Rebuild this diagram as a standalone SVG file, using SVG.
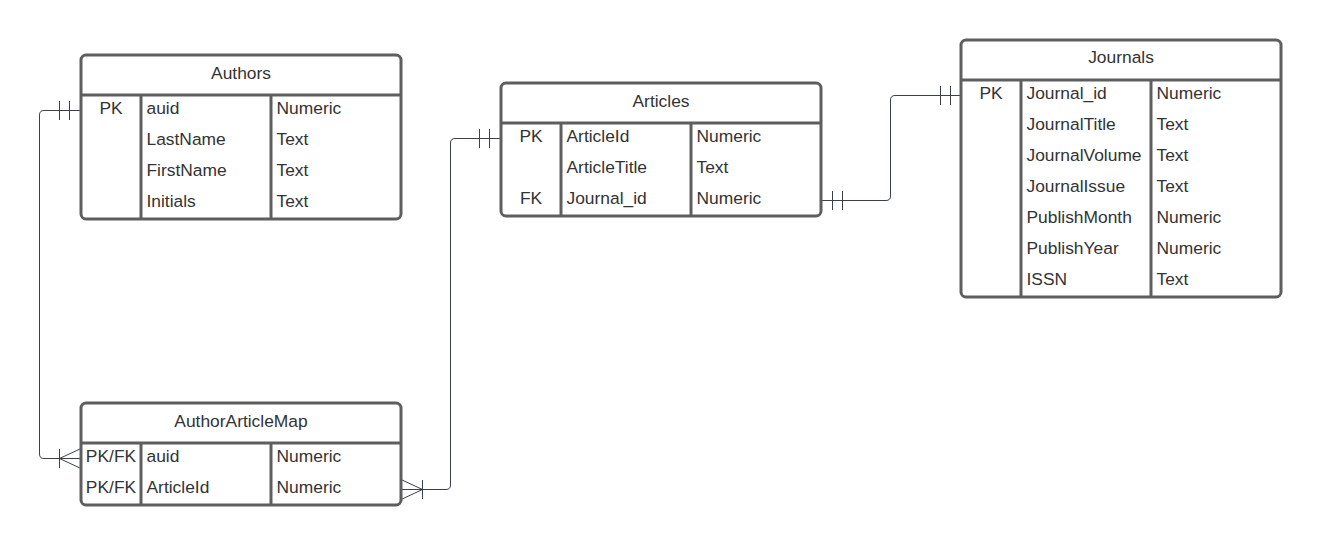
<svg xmlns="http://www.w3.org/2000/svg" width="1322" height="545" viewBox="0 0 1322 545">
<style>
.box{fill:#ffffff;stroke:#5e5e5e;stroke-width:3}
.div{stroke:#5e5e5e;stroke-width:3;fill:none}
.t{font-family:"Liberation Sans",Arial,sans-serif;font-size:17.4px;fill:#333333}
.c{text-anchor:middle}
.ln{fill:none;stroke:#3a414a;stroke-width:1}
</style>
<rect width="1322" height="545" fill="#ffffff"/>

<g id="connectors">
  <!-- Authors.auid -> AuthorArticleMap.auid -->
  <path class="ln" d="M81,110.5 H44 Q39.5,110.5 39.5,115 V454 Q39.5,458.5 44,458.5 H81"/>
  <path class="ln" d="M59.5,101 V120 M69.5,101 V120"/>
  <path class="ln" d="M81,448.5 L59.5,458.5 L81,468.5 M59.5,449 V468"/>
  <!-- AuthorArticleMap.ArticleId -> Articles.ArticleId -->
  <path class="ln" d="M401,489.5 H446 Q450.5,489.5 450.5,485 V143 Q450.5,138.5 455,138.5 H501"/>
  <path class="ln" d="M479.5,129 V148 M489.5,129 V148"/>
  <path class="ln" d="M401,479.5 L422.5,489.5 L401,499.5 M422.5,480 V499"/>
  <!-- Articles.Journal_id -> Journals.Journal_id -->
  <path class="ln" d="M821,200.5 H886 Q890.5,200.5 890.5,196 V100 Q890.5,95.5 895,95.5 H961"/>
  <path class="ln" d="M832.5,191 V210 M842.5,191 V210"/>
  <path class="ln" d="M940.5,86 V105 M950.5,86 V105"/>
</g>

<g id="authors">
  <rect class="box" x="81" y="55" width="320" height="164" rx="5"/>
  <path class="div" d="M81,95 H401 M141,95 V219 M271,95 V219"/>
  <text class="t c" x="241" y="79">Authors</text>
  <text class="t c" x="111" y="114">PK</text>
  <text class="t" x="146.5" y="114">auid</text>
  <text class="t" x="276.5" y="114">Numeric</text>
  <text class="t" x="146.5" y="145">LastName</text>
  <text class="t" x="276.5" y="145">Text</text>
  <text class="t" x="146.5" y="176">FirstName</text>
  <text class="t" x="276.5" y="176">Text</text>
  <text class="t" x="146.5" y="207">Initials</text>
  <text class="t" x="276.5" y="207">Text</text>
</g>

<g id="articles">
  <rect class="box" x="501" y="83" width="320" height="133" rx="5"/>
  <path class="div" d="M501,123 H821 M561,123 V216 M691,123 V216"/>
  <text class="t c" x="661" y="107">Articles</text>
  <text class="t c" x="531" y="142">PK</text>
  <text class="t" x="566.5" y="142">ArticleId</text>
  <text class="t" x="696.5" y="142">Numeric</text>
  <text class="t" x="566.5" y="173">ArticleTitle</text>
  <text class="t" x="696.5" y="173">Text</text>
  <text class="t c" x="531" y="204">FK</text>
  <text class="t" x="566.5" y="204">Journal_id</text>
  <text class="t" x="696.5" y="204">Numeric</text>
</g>

<g id="journals">
  <rect class="box" x="961" y="40" width="320" height="257" rx="5"/>
  <path class="div" d="M961,80 H1281 M1021,80 V297 M1151,80 V297"/>
  <text class="t c" x="1121" y="63">Journals</text>
  <text class="t c" x="991" y="99">PK</text>
  <text class="t" x="1026.5" y="99">Journal_id</text>
  <text class="t" x="1156.5" y="99">Numeric</text>
  <text class="t" x="1026.5" y="130">JournalTitle</text>
  <text class="t" x="1156.5" y="130">Text</text>
  <text class="t" x="1026.5" y="161">JournalVolume</text>
  <text class="t" x="1156.5" y="161">Text</text>
  <text class="t" x="1026.5" y="192">JournalIssue</text>
  <text class="t" x="1156.5" y="192">Text</text>
  <text class="t" x="1026.5" y="223">PublishMonth</text>
  <text class="t" x="1156.5" y="223">Numeric</text>
  <text class="t" x="1026.5" y="254">PublishYear</text>
  <text class="t" x="1156.5" y="254">Numeric</text>
  <text class="t" x="1026.5" y="285">ISSN</text>
  <text class="t" x="1156.5" y="285">Text</text>
</g>

<g id="authorarticlemap">
  <rect class="box" x="81" y="403" width="320" height="102" rx="5"/>
  <path class="div" d="M81,443 H401 M141,443 V505 M271,443 V505"/>
  <text class="t c" x="241" y="426.5">AuthorArticleMap</text>
  <text class="t c" x="111" y="462">PK/FK</text>
  <text class="t" x="146.5" y="462">auid</text>
  <text class="t" x="276.5" y="462">Numeric</text>
  <text class="t c" x="111" y="493">PK/FK</text>
  <text class="t" x="146.5" y="493">ArticleId</text>
  <text class="t" x="276.5" y="493">Numeric</text>
</g>
</svg>
